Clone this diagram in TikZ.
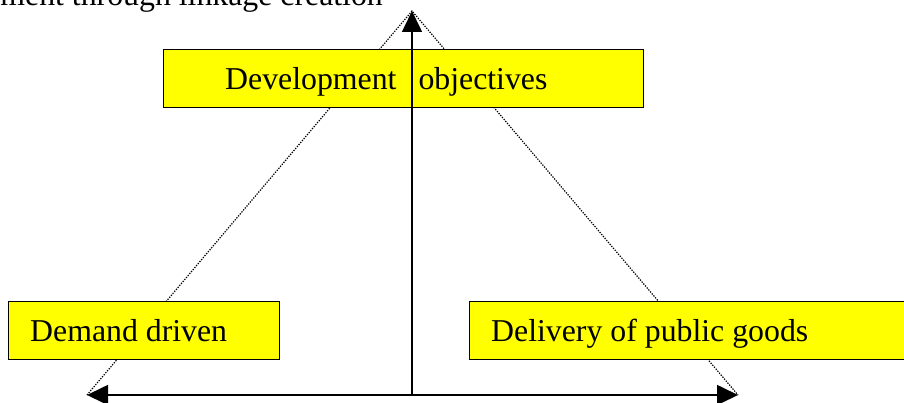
\documentclass[tikz,border=0pt]{standalone}
\usepackage{fontspec}
\setmainfont{Liberation Serif}
\usetikzlibrary{arrows.meta}
\definecolor{yel}{RGB}{255,255,0}
\begin{document}
\begin{tikzpicture}[x=1pt,y=-1pt,
  ybox/.style={draw=black,line width=1.3pt,fill=yel,rectangle,inner sep=0pt},
  lbl/.style={anchor=base west,inner sep=0pt,font=\fontsize{31.8}{32}\selectfont},
  dotline/.style={line width=1.2pt,dash pattern=on 1.3pt off 1.3pt},
  axis/.style={line width=1.6pt,-{Triangle[length=21pt,width=20pt]}},
  axis2/.style={line width=1.6pt,{Triangle[length=21pt,width=20pt]}-{Triangle[length=21pt,width=20pt]}}]
\useasboundingbox (0,0) rectangle (904,403);
\begin{scope}
\clip (0,0) rectangle (904,403);
\coordinate (apex) at (412,11);
\coordinate (L) at (87,395);
\coordinate (R) at (738,395);
\coordinate (base) at (412,395);
\draw[dotline] (L) -- (apex) -- (R);
\node[ybox,anchor=north west,minimum width=480pt,minimum height=58pt] (dev) at (163,49) {};
\node[ybox,anchor=north west,minimum width=271pt,minimum height=58pt] (dem) at (8,301) {};
\node[ybox,anchor=north west,minimum width=445pt,minimum height=58pt] (del) at (469,301) {};
\node[lbl] (devt) at (225,90) {Development\hspace{22pt}objectives};
\node[lbl] (demt) at (30,341) {Demand driven};
\node[lbl] (delt) at (491,341) {Delivery of public goods};
\node[lbl,anchor=base east] (top) at (383,6) {ment through linkage creation};
\draw[axis] (base) -- (apex);
\draw[axis2] (L) -- (R);
\end{scope}
\end{tikzpicture}
\end{document}
